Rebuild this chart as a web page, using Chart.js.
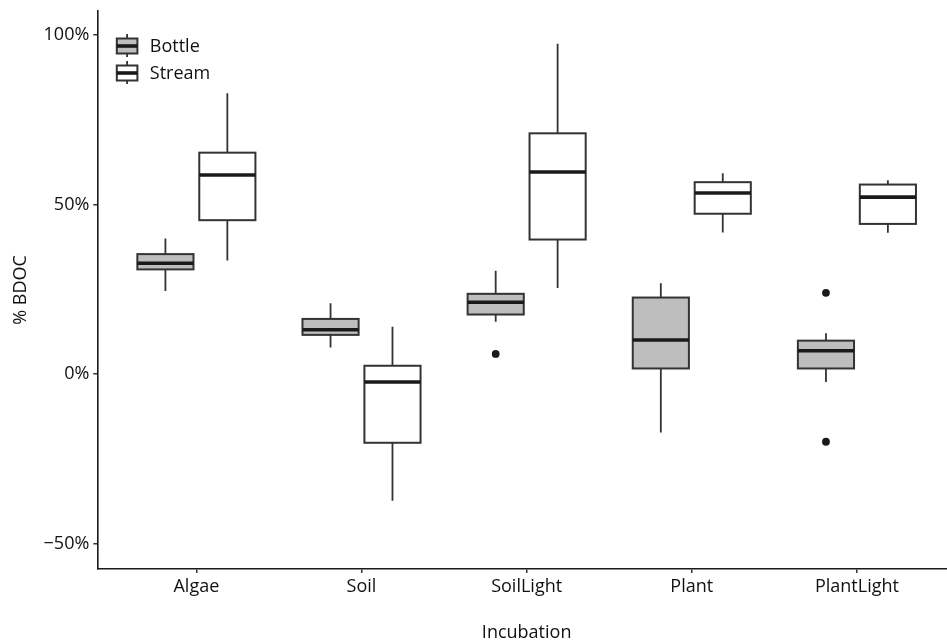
<!DOCTYPE html>
<html><head><meta charset="utf-8">
<script src="https://cdn.jsdelivr.net/npm/chart.js@4.4.1/dist/chart.umd.min.js"></script>
<style>
html,body{margin:0;padding:0;overflow:hidden;background:#fff;width:947px;height:640px}
#wrap{width:960px;height:640px}
</style></head>
<body><div id="wrap"><canvas id="c" width="960" height="640"></canvas></div>
<script>
const categories = ['Algae', 'Soil', 'SoilLight', 'Plant', 'PlantLight'];
const seriesNames = ['Bottle', 'Stream'];

const bottleLow    = [24.5,  7.9, 15.5, -17.2, -2.3];
const bottleQ1     = [30.9, 11.6, 17.6,   1.7,  1.7];
const bottleMedian = [32.7, 13.1, 21.2,  10.1,  6.9];
const bottleQ3     = [35.4, 16.3, 23.7,  22.6,  9.9];
const bottleHigh   = [40.0, 20.9, 30.5,  26.8, 12.1];

const streamLow    = [33.5, -37.3, 25.4, 41.8, 41.7];
const streamQ1     = [45.4, -20.2, 39.7, 47.3, 44.3];
const streamMedian = [58.7,  -2.3, 59.6, 53.4, 52.2];
const streamQ3     = [65.3,   2.5, 71.0, 56.6, 55.9];
const streamHigh   = [82.8,  14.0, 97.4, 59.2, 57.2];

const bottleOutlierCategory = ['SoilLight', 'PlantLight', 'PlantLight'];
const bottleOutlierValue    = [6.0, 24.0, -19.9];

const yTickValues = [-50, 0, 50, 100];

const DODGE = 0.1875, BOXW = 0.34;
const FONT = {family: "'Open Sans', sans-serif", size: 18};
const TEXT = '#111';

const groups = [
  {name: seriesNames[0], fill: '#bebebe', off: -DODGE, lo: bottleLow, q1: bottleQ1, med: bottleMedian, q3: bottleQ3, hi: bottleHigh},
  {name: seriesNames[1], fill: '#ffffff', off:  DODGE, lo: streamLow, q1: streamQ1, med: streamMedian, q3: streamQ3, hi: streamHigh}
];

function drawGlyph(ctx, cx, xl, xr, yHi, yQ3, yMed, yQ1, yLo, fill) {
  ctx.strokeStyle = '#333'; ctx.lineWidth = 1.8; ctx.lineCap = 'butt';
  ctx.beginPath();
  ctx.moveTo(cx, yHi); ctx.lineTo(cx, yQ3);
  ctx.moveTo(cx, yQ1); ctx.lineTo(cx, yLo);
  ctx.stroke();
  ctx.fillStyle = fill;
  ctx.fillRect(xl, yQ3, xr - xl, yQ1 - yQ3);
  ctx.lineWidth = 2;
  ctx.strokeRect(xl, yQ3, xr - xl, yQ1 - yQ3);
  ctx.strokeStyle = '#1a1a1a'; ctx.lineWidth = 3.6;
  ctx.beginPath(); ctx.moveTo(xl, yMed); ctx.lineTo(xr, yMed); ctx.stroke();
}

const boxPlugin = {
  id: 'boxes',
  beforeDatasetsDraw(chart) {
    const {ctx, scales: {x, y}} = chart;
    ctx.save();
    groups.forEach(g => {
      categories.forEach((c, i) => {
        const pos = i + 1 + g.off;
        drawGlyph(ctx,
          x.getPixelForValue(pos),
          x.getPixelForValue(pos - BOXW / 2), x.getPixelForValue(pos + BOXW / 2),
          y.getPixelForValue(g.hi[i]), y.getPixelForValue(g.q3[i]), y.getPixelForValue(g.med[i]),
          y.getPixelForValue(g.q1[i]), y.getPixelForValue(g.lo[i]), g.fill);
      });
    });
    ctx.restore();
  },
  afterDraw(chart) {
    const {ctx, chartArea} = chart;
    ctx.save();
    const xl = chartArea.left + 19.5, xr = xl + 20.6, cx = (xl + xr) / 2;
    groups.forEach((g, k) => {
      const cy = chartArea.top + 35 + k * 27;
      drawGlyph(ctx, cx, xl, xr, cy - 12, cy - 7.5, cy, cy + 7.5, cy + 11, g.fill);
      ctx.fillStyle = TEXT;
      ctx.font = `${FONT.size}px ${FONT.family}`;
      ctx.textAlign = 'left'; ctx.textBaseline = 'middle';
      ctx.fillText(g.name, chartArea.left + 52.5, cy + 1);
    });
    ctx.restore();
  }
};

const axisCommon = {
  grid: {drawOnChartArea: false, drawTicks: true, tickLength: 4, color: '#333', lineWidth: 1.5},
  border: {display: true, color: '#1a1a1a', width: 1.6},
};

new Chart(document.getElementById('c'), {
  type: 'scatter',
  data: {
    datasets: [{
      label: 'Bottle outliers',
      data: bottleOutlierCategory.map((c, k) => ({x: categories.indexOf(c) + 1 - DODGE, y: bottleOutlierValue[k]})),
      backgroundColor: '#1a1a1a', borderColor: '#1a1a1a', pointRadius: 3.9, borderWidth: 0
    }]
  },
  options: {
    responsive: false, animation: false, devicePixelRatio: 1,
    layout: {padding: {left: 0, top: 11, right: 1.5, bottom: 0}},
    plugins: {legend: {display: false}, tooltip: {enabled: false}},
    scales: {
      x: {
        type: 'linear', min: 0.4, max: 5.6,
        afterBuildTicks: s => { s.ticks = categories.map((c, i) => ({value: i + 1})); },
        afterFit: s => { s.height = 71; s.paddingLeft = 0; s.paddingRight = 0; },
        ticks: {callback: v => categories[Math.round(v) - 1], font: FONT, color: TEXT, padding: 3, autoSkip: false, maxRotation: 0},
        title: {display: true, text: 'Incubation', font: FONT, color: TEXT, padding: {top: 0, bottom: -4}},
        ...axisCommon
      },
      y: {
        type: 'linear', min: -57.4, max: 107.05,
        afterBuildTicks: s => { s.ticks = yTickValues.map(v => ({value: v})); },
        afterFit: s => { s.width = 97.3; s.paddingTop = 0; s.paddingBottom = 0; },
        ticks: {callback: v => (v < 0 ? '\u2212' + Math.abs(v) : v) + '%', font: FONT, color: TEXT, padding: 4},
        title: {display: true, text: '% BDOC', font: FONT, color: TEXT, padding: {top: 10, bottom: 0}},
        ...axisCommon
      }
    }
  },
  plugins: [boxPlugin]
});
</script>
</body></html>
